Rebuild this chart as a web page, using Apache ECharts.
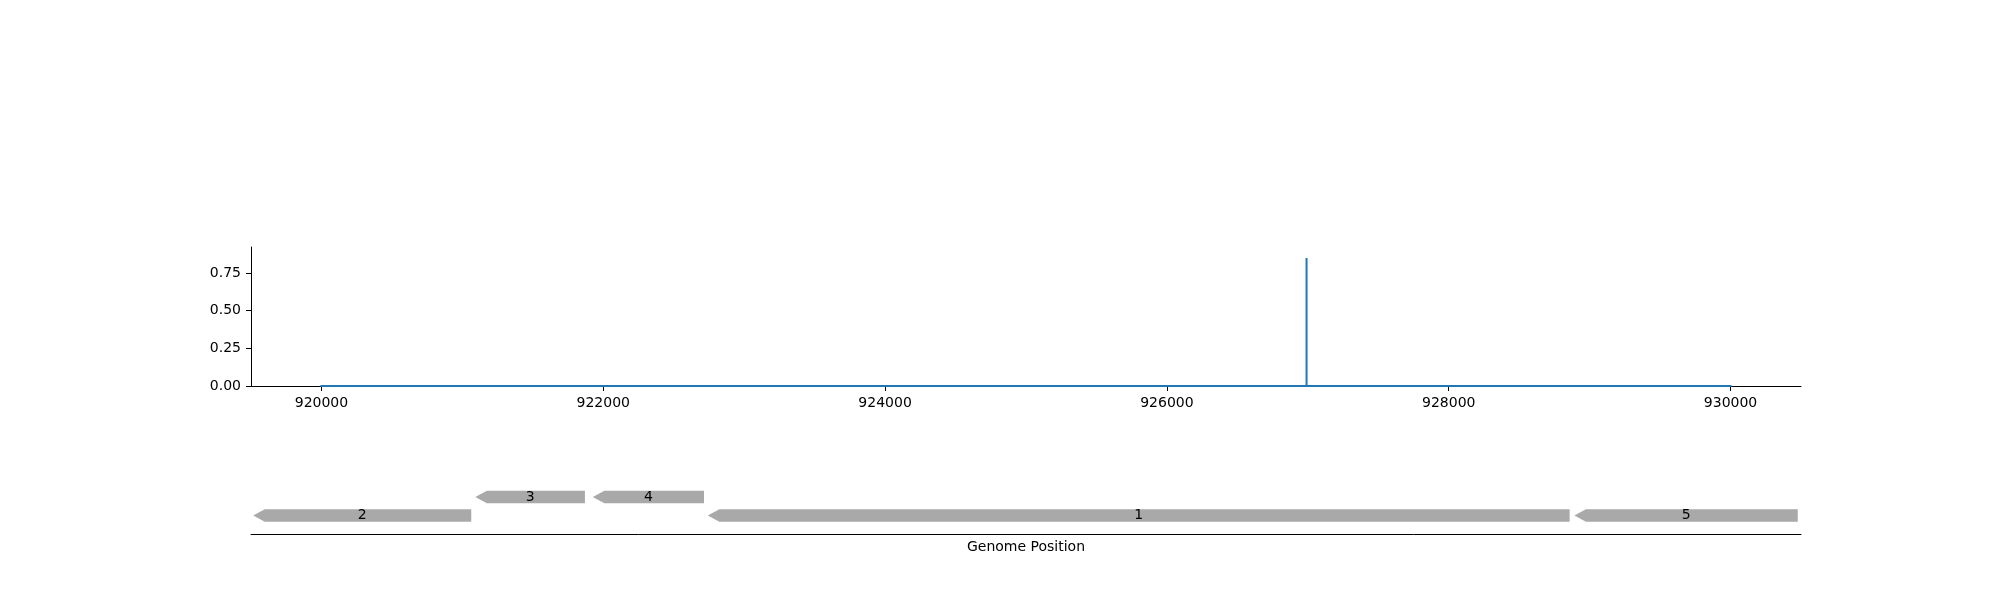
<!DOCTYPE html>
<html>
<head>
<meta charset="utf-8">
<script src="https://cdn.jsdelivr.net/npm/echarts@6/dist/echarts.min.js"></script>
<style>
  html, body { margin: 0; padding: 0; background: #fff; }
  #chart { width: 2000px; height: 600px; }
</style>
</head>
<body>
<div id="chart"></div>
<script>
// ---- Data ----
const positions = [920000, 926991, 926991, 926991, 930000];
const coverage = [0, 0, 0.85, 0, 0];

const xTicks = [920000, 922000, 924000, 926000, 928000, 930000];
const yTicks = [0, 0.25, 0.5, 0.75];

const geneLabels = ['2', '3', '4', '1', '5'];
const geneStarts = [919516, 921092, 921926, 922742, 928892];
const geneEnds = [921063, 921870, 922715, 928858, 930477];
const geneRows = [1, 2, 2, 1, 1];

// ---- Build ----
const FONT = 'DejaVu Sans';
const lineData = positions.map((p, i) => [p, coverage[i]]);
const geneData = geneLabels.map((l, i) => [geneStarts[i], geneEnds[i], geneRows[i], l]);

const chart = echarts.init(document.getElementById('chart'), null, { renderer: 'canvas' });

const option = {
  animation: false,
  backgroundColor: '#ffffff',
  grid: [
    { left: 251, right: 199, top: 247, bottom: 214 },
    { left: 251, right: 199, top: 478.5, bottom: 66 }
  ],
  xAxis: [
    {
      gridIndex: 0, type: 'value', min: 919500, max: 930500,
      splitLine: { show: false },
      axisLine: { show: true, onZero: false, lineStyle: { color: '#000', width: 1 } },
      axisTick: { show: true, length: 5, customValues: xTicks, lineStyle: { color: '#000' } },
      axisLabel: { show: true, margin: 10, customValues: xTicks, color: '#000', fontFamily: FONT, fontSize: 14,
        formatter: v => String(v) }
    },
    {
      gridIndex: 1, type: 'value', min: 919500, max: 930500,
      splitLine: { show: false },
      axisLine: { show: true, onZero: false, lineStyle: { color: '#000', width: 1 } },
      axisTick: { show: false },
      axisLabel: { show: false },
      name: 'Genome Position', nameLocation: 'middle', nameGap: 6,
      nameTextStyle: { color: '#000', fontFamily: FONT, fontSize: 14 }
    }
  ],
  yAxis: [
    {
      gridIndex: 0, type: 'value', min: 0, max: 0.923,
      splitLine: { show: false },
      axisLine: { show: true, onZero: false, lineStyle: { color: '#000', width: 1 } },
      axisTick: { show: true, length: 5, customValues: yTicks, lineStyle: { color: '#000' } },
      axisLabel: { show: true, margin: 10, customValues: yTicks, color: '#000', fontFamily: FONT, fontSize: 14,
        formatter: v => v.toFixed(2) }
    },
    {
      gridIndex: 1, type: 'value', min: 0, max: 3, show: false,
      splitLine: { show: false }
    }
  ],
  series: [
    {
      type: 'line', xAxisIndex: 0, yAxisIndex: 0,
      data: lineData, showSymbol: false, symbol: 'none',
      lineStyle: { color: '#1f77b4', width: 2, cap: 'square' },
      z: 1
    },
    {
      type: 'custom', xAxisIndex: 1, yAxisIndex: 1,
      data: geneData,
      encode: { x: [0, 1], y: 2 },
      renderItem: function (params, api) {
        const s = api.coord([api.value(0), api.value(2)]);
        const e = api.coord([api.value(1), api.value(2)]);
        const h = 12.4;
        const head = 11.5;
        const yc = s[1];
        const top = yc - h / 2, bot = yc + h / 2;
        const x0 = s[0], x1 = e[0];
        return {
          type: 'group',
          children: [
            {
              type: 'polygon',
              shape: { points: [[x0, yc], [x0 + head, top], [x1, top], [x1, bot], [x0 + head, bot]] },
              style: { fill: '#a9a9a9', stroke: null }
            },
            {
              type: 'text',
              x: (x0 + x1) / 2, y: yc,
              style: { text: api.value(3), fill: '#000', font: '14px "DejaVu Sans"', align: 'center', verticalAlign: 'middle' }
            }
          ]
        };
      }
    }
  ]
};
chart.setOption(option);
</script>
</body>
</html>
